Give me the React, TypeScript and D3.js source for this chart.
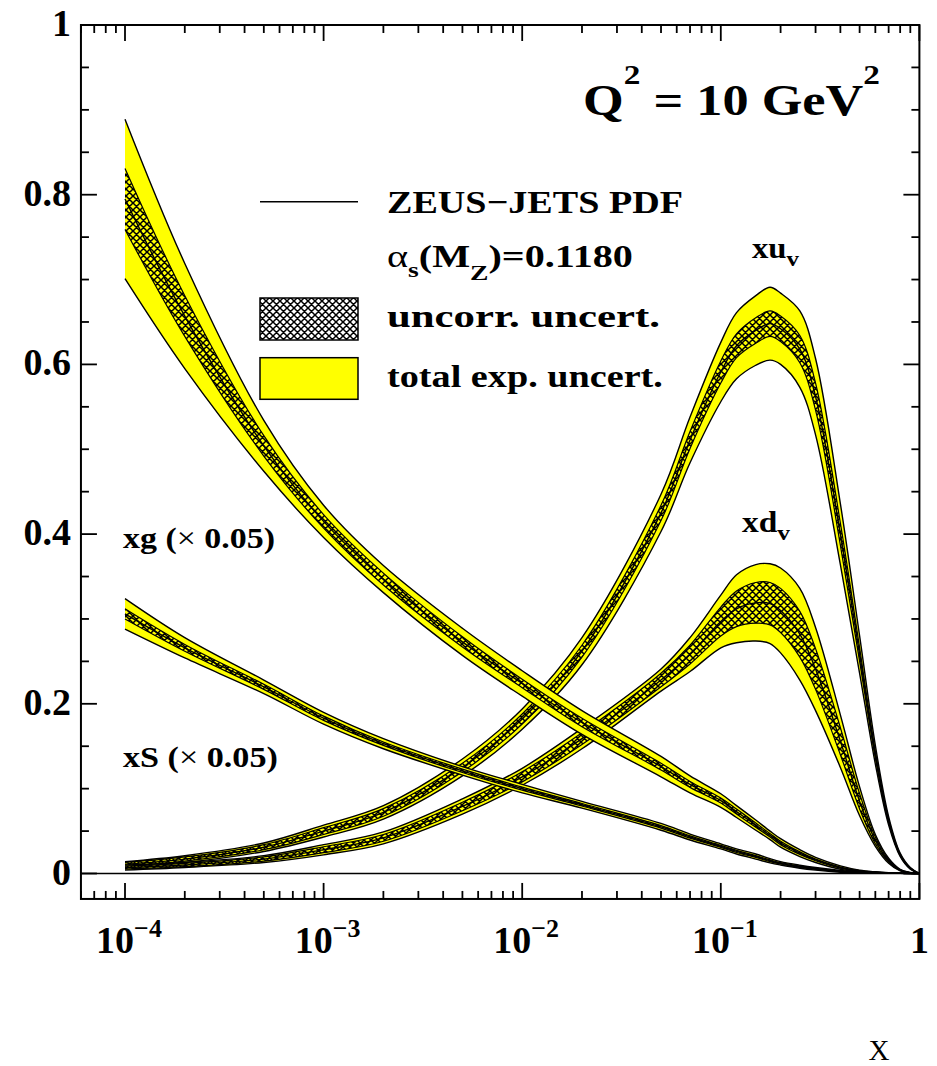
import React, { useLayoutEffect, useRef, useState } from "react";
import * as d3 from "d3";

// ---------------- data ----------------
const X_GRID = [1e-4, 2e-4, 5e-4, 1e-3, 2e-3, 5e-3, 1e-2, 2e-2, 5e-2, 0.07, 0.1, 0.12, 0.15, 0.177, 0.2, 0.25, 0.3, 0.4, 0.5, 0.6, 0.7, 0.8, 0.9, 1.0];

const XUV_CENTRAL = [0.011, 0.017, 0.031, 0.050, 0.072, 0.125, 0.182, 0.262, 0.425, 0.511, 0.591, 0.622, 0.640, 0.648, 0.642, 0.618, 0.562, 0.400, 0.258, 0.140, 0.062, 0.022, 0.006, 0];
const XUV_TOTAL = [0.003, 0.004, 0.005, 0.007, 0.008, 0.010, 0.012, 0.016, 0.022, 0.027, 0.035, 0.039, 0.041, 0.043, 0.042, 0.045, 0.045, 0.036, 0.022, 0.011, 0.005, 0.002, 0.001, 0];
const XUV_UNCORR = [0.002, 0.0025, 0.003, 0.004, 0.0045, 0.005, 0.006, 0.007, 0.009, 0.010, 0.013, 0.014, 0.015, 0.015, 0.015, 0.016, 0.016, 0.013, 0.008, 0.004, 0.002, 0.001, 0.0005, 0];

const XDV_CENTRAL = [0.007, 0.010, 0.017, 0.028, 0.042, 0.079, 0.114, 0.159, 0.228, 0.258, 0.297, 0.312, 0.319, 0.318, 0.310, 0.282, 0.241, 0.156, 0.085, 0.039, 0.015, 0.004, 0.001, 0];
const XDV_TOTAL = [0.003, 0.003, 0.004, 0.006, 0.007, 0.009, 0.010, 0.012, 0.013, 0.020, 0.031, 0.040, 0.045, 0.047, 0.050, 0.054, 0.049, 0.031, 0.017, 0.007, 0.003, 0.001, 0.0003, 0];
const XDV_UNCORR = [0.0018, 0.002, 0.0025, 0.0035, 0.004, 0.005, 0.006, 0.007, 0.008, 0.011, 0.017, 0.021, 0.024, 0.025, 0.026, 0.027, 0.024, 0.016, 0.009, 0.004, 0.0015, 0.0005, 0.0002, 0];

const XG_CENTRAL = [0.795, 0.657, 0.504, 0.415, 0.347, 0.273, 0.224, 0.178, 0.126, 0.105, 0.086, 0.073, 0.057, 0.045, 0.036, 0.024, 0.016, 0.007, 0.003, 0.0015, 0.0007, 0.0003, 0.0001, 0];
const XG_TOTAL = [0.094, 0.062, 0.030, 0.019, 0.016, 0.016, 0.015, 0.014, 0.012, 0.010, 0.008, 0.007, 0.006, 0.005, 0.005, 0.004, 0.003, 0.002, 0.001, 0.0005, 0.0002, 0.0001, 0, 0];
const XG_UNCORR = [0.036, 0.024, 0.012, 0.008, 0.007, 0.006, 0.005, 0.005, 0.004, 0.0035, 0.003, 0.003, 0.0025, 0.002, 0.002, 0.0015, 0.001, 0.0007, 0.0004, 0.0002, 0.0001, 0, 0, 0];

const XS_CENTRAL = [0.306, 0.266, 0.220, 0.183, 0.153, 0.121, 0.100, 0.081, 0.055, 0.043, 0.032, 0.026, 0.020, 0.015, 0.012, 0.008, 0.0055, 0.0025, 0.001, 0.0005, 0.0002, 0.0001, 0, 0];
const XS_TOTAL = [0.018, 0.012, 0.008, 0.007, 0.006, 0.005, 0.005, 0.004, 0.004, 0.0035, 0.003, 0.003, 0.003, 0.0025, 0.002, 0.0018, 0.0015, 0.001, 0.0005, 0.0002, 0.0001, 0, 0, 0];
const XS_UNCORR = [0.006, 0.004, 0.003, 0.0025, 0.002, 0.002, 0.0018, 0.0015, 0.0015, 0.0013, 0.0012, 0.0012, 0.001, 0.001, 0.0008, 0.0007, 0.0006, 0.0004, 0.0002, 0.0001, 0, 0, 0, 0];

const Y_TICKS = [0, 0.2, 0.4, 0.6, 0.8, 1];
const Y_TICK_LABELS = ["0", "0.2", "0.4", "0.6", "0.8", "1"];
const X_TICKS = [1e-4, 1e-3, 1e-2, 1e-1, 1];
const X_TICK_EXP = ["\u22124", "\u22123", "\u22122", "\u22121", ""];

const LEGEND_LABELS = ["ZEUS\u2212JETS PDF", "uncorr. uncert.", "total exp. uncert."];

// ---------------- layout ----------------
const W = 937;
const H = 1066;
const X_MIN = 6e-5;
const X_MAX = 1;
const Y_MIN = -0.03;
const Y_MAX = 1;

const FONT = "'Liberation Serif', 'Times New Roman', Times, serif";

const xScale = d3.scaleLog().domain([1e-4, 1]).range([125, 919.4]);
const yScale = d3.scaleLinear().domain([0, 1]).range([873.5, 25]);

type Pt = { x: number; c: number; t: number; u: number };

function series(c: number[], t: number[], u: number[]): Pt[] {
  return X_GRID.map((x, i) => ({ x, c: c[i], t: t[i], u: u[i] }));
}

const SERIES = [
  series(XUV_CENTRAL, XUV_TOTAL, XUV_UNCORR),
  series(XDV_CENTRAL, XDV_TOTAL, XDV_UNCORR),
  series(XS_CENTRAL, XS_TOTAL, XS_UNCORR),
  series(XG_CENTRAL, XG_TOTAL, XG_UNCORR),
];

function FitText(props: {
  x: number;
  y: number;
  width: number;
  size: number;
  weight?: string;
  children: React.ReactNode;
}) {
  const ref = useRef<SVGTextElement>(null);
  const [sx, setSx] = useState(1);
  useLayoutEffect(() => {
    if (ref.current) {
      const w = ref.current.getBBox().width;
      if (w > 0) setSx(props.width / w);
    }
  }, [props.width]);
  return (
    <text
      ref={ref}
      transform={`translate(${props.x},${props.y}) scale(${sx},1)`}
      fontFamily={FONT}
      fontSize={props.size}
      fontWeight={props.weight ?? "bold"}
      fill="#000"
    >
      {props.children}
    </text>
  );
}

function Band({ data }: { data: Pt[] }) {
  const X = (d: Pt) => xScale(d.x);
  const curve = d3.curveCatmullRom.alpha(0.5);
  const clamp = (v: number) => Math.max(0, v);
  const totArea = d3.area<Pt>().x(X).y0((d) => yScale(clamp(d.c - d.t))).y1((d) => yScale(d.c + d.t)).curve(curve);
  const uncArea = d3.area<Pt>().x(X).y0((d) => yScale(clamp(d.c - d.u))).y1((d) => yScale(d.c + d.u)).curve(curve);
  const line = (f: (d: Pt) => number) => d3.line<Pt>().x(X).y((d) => yScale(f(d))).curve(curve)(data) || "";
  return (
    <g>
      <path d={totArea(data) || ""} fill="#ffff00" stroke="none" />
      <path d={line((d) => d.c + d.t)} fill="none" stroke="#000" strokeWidth={1.4} />
      <path d={line((d) => clamp(d.c - d.t))} fill="none" stroke="#000" strokeWidth={1.4} />
      <path d={uncArea(data) || ""} fill="url(#hatch)" stroke="none" />
      <path d={line((d) => d.c + d.u)} fill="none" stroke="#000" strokeWidth={1.2} />
      <path d={line((d) => clamp(d.c - d.u))} fill="none" stroke="#000" strokeWidth={1.2} />
      <path d={line((d) => d.c)} fill="none" stroke="#000" strokeWidth={1.4} />
    </g>
  );
}

export default function App() {
  const left = xScale(X_MIN);
  const right = xScale(X_MAX);
  const top = yScale(Y_MAX);
  const bottom = yScale(Y_MIN);

  // minor log ticks
  const minorX: number[] = [];
  for (let e = -5; e <= 0; e++) {
    for (let k = 2; k <= 9; k++) {
      const v = k * Math.pow(10, e);
      if (v >= X_MIN && v < X_MAX) minorX.push(v);
    }
  }
  const minorY: number[] = [];
  for (let i = 0; i <= 20; i++) {
    const v = i * 0.05;
    if (Math.round(v * 100) % 20 !== 0) minorY.push(v);
  }

  const legX0 = 260;
  const legX1 = 358;

  return (
    <svg width={W} height={H} style={{ display: "block", position: "absolute", left: 0, top: 0, background: "#fff" }}>
      <defs>
        <pattern id="hatch" width={7} height={7} patternUnits="userSpaceOnUse">
          <path d="M-1,-1 L8,8 M8,-1 L-1,8 M-1,6 L1,8 M6,-1 L8,1 M6,8 L8,6 M-1,1 L1,-1" stroke="#000" strokeWidth={1.5} fill="none" />
        </pattern>
      </defs>
      <rect x={0} y={0} width={W} height={H} fill="#fff" />

      {/* zero line */}
      <line x1={left} x2={right} y1={yScale(0)} y2={yScale(0)} stroke="#000" strokeWidth={1.3} />

      {/* bands */}
      {SERIES.map((s, i) => (
        <Band key={i} data={s} />
      ))}

      {/* frame */}
      <rect x={left} y={top} width={right - left} height={bottom - top} fill="none" stroke="#000" strokeWidth={2} />

      {/* y ticks */}
      {Y_TICKS.map((v) => (
        <g key={"yt" + v}>
          <line x1={left} x2={left + 16} y1={yScale(v)} y2={yScale(v)} stroke="#000" strokeWidth={1.8} />
          <line x1={right} x2={right - 16} y1={yScale(v)} y2={yScale(v)} stroke="#000" strokeWidth={1.8} />
        </g>
      ))}
      {minorY.map((v) => (
        <g key={"ym" + v}>
          <line x1={left} x2={left + 8} y1={yScale(v)} y2={yScale(v)} stroke="#000" strokeWidth={1.8} />
          <line x1={right} x2={right - 8} y1={yScale(v)} y2={yScale(v)} stroke="#000" strokeWidth={1.8} />
        </g>
      ))}
      {Y_TICKS.map((v, i) => (
        <text key={"yl" + v} x={71} y={yScale(v) + 11} textAnchor="end" fontFamily={FONT} fontWeight="bold" fontSize={38}>
          {Y_TICK_LABELS[i]}
        </text>
      ))}

      {/* x ticks */}
      {X_TICKS.map((v) => (
        <g key={"xt" + v}>
          <line x1={xScale(v)} x2={xScale(v)} y1={bottom} y2={bottom - 16} stroke="#000" strokeWidth={1.8} />
          <line x1={xScale(v)} x2={xScale(v)} y1={top} y2={top + 16} stroke="#000" strokeWidth={1.8} />
        </g>
      ))}
      {minorX.map((v) => (
        <g key={"xm" + v}>
          <line x1={xScale(v)} x2={xScale(v)} y1={bottom} y2={bottom - 8} stroke="#000" strokeWidth={1.8} />
          <line x1={xScale(v)} x2={xScale(v)} y1={top} y2={top + 8} stroke="#000" strokeWidth={1.8} />
        </g>
      ))}
      {X_TICKS.map((v, i) =>
        X_TICK_EXP[i] ? (
          <text key={"xl" + v} x={xScale(v) + 4} y={953} textAnchor="middle" fontFamily={FONT} fontWeight="bold" fontSize={38}>
            10
            <tspan dy={-16} fontSize={26}>
              {X_TICK_EXP[i]}
            </tspan>
          </text>
        ) : (
          <text key={"xl" + v} x={xScale(v)} y={953} textAnchor="middle" fontFamily={FONT} fontWeight="bold" fontSize={38}>
            1
          </text>
        )
      )}

      {/* axis title */}
      <text x={879} y={1060} textAnchor="middle" fontFamily={FONT} fontSize={29}>
        X
      </text>

      {/* Q2 title */}
      <FitText x={583} y={115} width={297} size={44}>
        Q
        <tspan dy={-31} fontSize={28}>2</tspan>
        <tspan dy={31}> = 10 GeV</tspan>
        <tspan dy={-31} fontSize={28}>2</tspan>
      </FitText>

      {/* legend */}
      <line x1={legX0} x2={legX1} y1={201.7} y2={201.7} stroke="#000" strokeWidth={1.5} />
      <rect x={legX0} y={298} width={legX1 - legX0} height={42} fill="#fff" />
      <rect x={legX0} y={298} width={legX1 - legX0} height={42} fill="url(#hatch)" stroke="#000" strokeWidth={1.5} />
      <rect x={legX0} y={357.7} width={legX1 - legX0} height={41.6} fill="#ffff00" stroke="#000" strokeWidth={1.5} />

      <FitText x={387} y={212.5} width={296} size={32}>
        {LEGEND_LABELS[0]}
      </FitText>
      <FitText x={387} y={267} width={246} size={32}>
        <tspan fontWeight="normal">{"\u03b1"}</tspan>
        <tspan dy={10} fontSize={22}>s</tspan>
        <tspan dy={-10}>(M</tspan>
        <tspan dy={13} fontSize={22}>Z</tspan>
        <tspan dy={-13}>)=0.1180</tspan>
      </FitText>
      <FitText x={387} y={327} width={273} size={32}>
        {LEGEND_LABELS[1]}
      </FitText>
      <FitText x={387} y={387} width={276} size={32}>
        {LEGEND_LABELS[2]}
      </FitText>

      {/* curve labels */}
      <FitText x={752} y={258} width={47} size={29}>
        xu<tspan dy={8} fontSize={22}>v</tspan>
      </FitText>
      <FitText x={742} y={532} width={48} size={29}>
        xd<tspan dy={8} fontSize={22}>v</tspan>
      </FitText>
      <FitText x={123} y={548} width={152} size={30}>
        xg (<tspan fontWeight="normal">{"\u00d7"}</tspan> 0.05)
      </FitText>
      <FitText x={123} y={767} width={155} size={30}>
        xS (<tspan fontWeight="normal">{"\u00d7"}</tspan> 0.05)
      </FitText>
    </svg>
  );
}
